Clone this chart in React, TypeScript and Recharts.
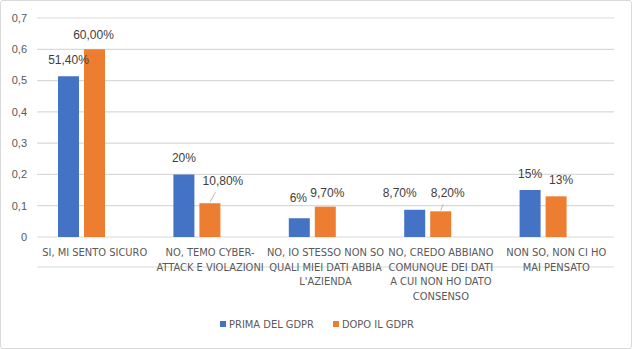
import React from 'react';
import { BarChart, Bar, XAxis, YAxis, CartesianGrid, Legend, LabelList } from 'recharts';

const CATEGORIES = [
  'SI, MI SENTO SICURO',
  'NO, TEMO CYBER-\nATTACK E VIOLAZIONI',
  'NO, IO STESSO NON SO\nQUALI MIEI DATI ABBIA\nL\'AZIENDA',
  'NO, CREDO ABBIANO\nCOMUNQUE DEI DATI\nA CUI NON HO DATO\nCONSENSO',
  'NON SO, NON CI HO\nMAI PENSATO',
];
const PRIMA = [0.514, 0.2, 0.06, 0.087, 0.15];
const DOPO = [0.6, 0.108, 0.097, 0.082, 0.13];
const PRIMA_LABELS = ['51,40%', '20%', '6%', '8,70%', '15%'];
const DOPO_LABELS = ['60,00%', '10,80%', '9,70%', '8,20%', '13%'];
const Y_TICKS = [0, 0.1, 0.2, 0.3, 0.4, 0.5, 0.6, 0.7];

// label nudges (dx, dy) and leader lines, as moved by hand in the original
const PRIMA_NUDGE = [[0, 0], [0, 0], [-1, -4], [-15, -1], [0, 0]];
const DOPO_NUDGE = [[-1, 2], [13, -6], [2, 2], [7, -2], [5, 0]];
const DOPO_LEADER = [false, true, false, true, false];

const BLUE = '#4472C4';
const ORANGE = '#ED7D31';
const TEXT = '#595959';
const GRID = '#d9d9d9';
const CAT_FONT = '"DejaVu Sans Condensed", sans-serif';

const data = CATEGORIES.map((name, i) => ({ name, prima: PRIMA[i], dopo: DOPO[i] }));

const makeLabel = (labels: string[], nudges: number[][], leader?: boolean[]) => (props: any) => {
  const { x, y, width, index } = props;
  const bx = Number(x) + Number(width) / 2;
  const cx = bx + nudges[index][0];
  const cy = Number(y) - 16 + nudges[index][1];
  return (
    <g>
      {leader && leader[index] && (
        <line x1={bx} y1={Number(y) - 1} x2={cx - 1 - (cx - bx) / 2} y2={cy + 11} stroke="#a6a6a6" strokeWidth={0.8} />
      )}
      <text x={cx} y={cy} textAnchor="middle" dominantBaseline="central" fontSize={12}
        fontFamily="Liberation Sans, Arial, sans-serif" fill="#404040">
        {labels[index]}
      </text>
    </g>
  );
};

const CategoryTick = (props: any) => {
  const { x, payload } = props;
  const lines = String(payload.value).split('\n');
  // first line sits just under the axis
  const top = 256;
  return (
    <text x={x} y={top} textAnchor="middle" fontSize={11} fontFamily={CAT_FONT} fill={TEXT}>
      {lines.map((l, i) => (
        <tspan key={i} x={x} dy={i === 0 ? 0 : 14.7}>{l}</tspan>
      ))}
    </text>
  );
};

const LegendContent = () => (
  <div style={{ display: 'flex', justifyContent: 'center', gap: 19, paddingLeft: 20, fontFamily: CAT_FONT, fontSize: 11, color: TEXT, height: 20, alignItems: 'center' }}>
    <span style={{ display: 'flex', alignItems: 'center' }}>
      <span style={{ width: 6, height: 6, background: BLUE, marginRight: 3 }} />PRIMA DEL GDPR
    </span>
    <span style={{ display: 'flex', alignItems: 'center' }}>
      <span style={{ width: 6, height: 6, background: ORANGE, marginRight: 3 }} />DOPO IL GDPR
    </span>
  </div>
);

export default function App() {
  return (
    <div style={{ position: 'absolute', left: 0, top: 0, width: 632, height: 349, background: '#fff' }}>
      <BarChart width={632} height={349} data={data} margin={{ top: 18, right: 18, left: 0, bottom: 15 }}
        barGap={5} barSize={21}>
        <CartesianGrid vertical={false} stroke={GRID} strokeWidth={1.2} />
        <XAxis xAxisId="bars" dataKey="name" hide padding={{ left: -13, right: 13 }} />
        <XAxis xAxisId="labels" dataKey="name" height={77} axisLine={{ stroke: GRID }} tickLine={false}
          interval={0} tick={<CategoryTick />} />
        <YAxis width={37} domain={[0, 0.7]} ticks={Y_TICKS} axisLine={false} tickLine={false} tickMargin={4}
          tickFormatter={(v: number) => String(Math.round(v * 10) / 10).replace('.', ',')}
          tick={{ fontSize: 11, fill: TEXT, fontFamily: 'Liberation Sans, Arial, sans-serif' }} />
        <Legend verticalAlign="bottom" height={20} content={<LegendContent />} />
        <Bar xAxisId="bars" dataKey="prima" name="PRIMA DEL GDPR" fill={BLUE} isAnimationActive={false}>
          <LabelList dataKey="prima" content={makeLabel(PRIMA_LABELS, PRIMA_NUDGE)} />
        </Bar>
        <Bar xAxisId="bars" dataKey="dopo" name="DOPO IL GDPR" fill={ORANGE} isAnimationActive={false}>
          <LabelList dataKey="dopo" content={makeLabel(DOPO_LABELS, DOPO_NUDGE, DOPO_LEADER)} />
        </Bar>
      </BarChart>
      <div style={{ position: 'absolute', left: 0, top: 0, width: 632, height: 349, boxSizing: 'border-box', border: '1px solid #d9d9d9', borderRadius: 3, pointerEvents: 'none' }} />
    </div>
  );
}
